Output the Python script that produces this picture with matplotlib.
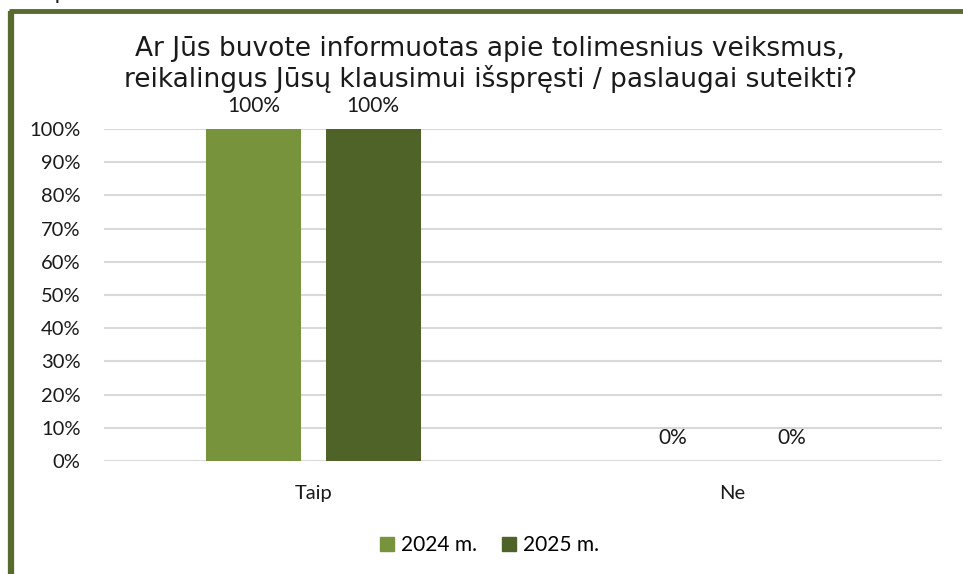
#!/usr/bin/env python3
"""Bar chart: was the respondent informed about further steps (2024 vs 2025)."""

import matplotlib

matplotlib.use("Agg")
import matplotlib.pyplot as plt
import numpy as np
from matplotlib.lines import Line2D
from matplotlib.patches import Rectangle

CATEGORIES = ["Taip", "Ne"]
SERIES = ["2024 m.", "2025 m."]
VALUES_2024 = [1.00, 0.00]
VALUES_2025 = [1.00, 0.00]
COLORS = ["#77933c", "#4f6228"]
TITLE = ("Ar Jūs buvote informuotas apie tolimesnius veiksmus,\n"
         "reikalingus Jūsų klausimui išspręsti / paslaugai suteikti?")

BORDER = "#586b2e"
GRID = "#d9d9d9"
TEXT = "#1a1a1a"
BAR_W = 0.227
OFFSET = 0.1426

plt.rcParams["font.family"] = ["Lato", "DejaVu Sans"]

fig = plt.figure(figsize=(9.63, 5.74), dpi=100)
ax = fig.add_axes([0.108, 0.1969, 0.870, 0.5784])

x = np.arange(len(CATEGORIES))
for vals, off, color, name in zip([VALUES_2024, VALUES_2025], [-OFFSET, OFFSET], COLORS, SERIES):
    bars = ax.bar(x + off, vals, width=BAR_W, color=color, label=name, zorder=3)
    for rect, v in zip(bars, vals):
        ax.annotate(f"{v:.0%}", (rect.get_x() + rect.get_width() / 2, v),
                    xytext=(0, 9), textcoords="offset points",
                    ha="center", va="bottom", fontsize=15, color=TEXT)

ax.set_xlim(-0.5, 1.5)
ax.set_ylim(0, 1.0)
ax.set_yticks(np.arange(0, 1.01, 0.1))
ax.set_yticklabels([f"{int(round(t * 100))}%" for t in np.arange(0, 1.01, 0.1)])
ax.set_xticks(x)
ax.set_xticklabels(CATEGORIES)
ax.tick_params(axis="both", length=0, labelsize=14.5, colors=TEXT)
ax.tick_params(axis="x", pad=17)
ax.tick_params(axis="y", pad=17)
ax.yaxis.grid(True, color=GRID, linewidth=1.5, zorder=0)
ax.set_axisbelow(True)
for sp in ax.spines.values():
    sp.set_visible(False)

fig.text(0.509, 0.888, TITLE, ha="center", va="center", fontsize=19,
         family=["DejaVu Sans"], color=TEXT, linespacing=1.12)

handles = [Rectangle((0, 0), 1, 1, color=c) for c in COLORS]
fig.legend(handles, SERIES, loc="center", bbox_to_anchor=(0.508, 0.05), ncol=2,
           frameon=False, fontsize=15, handlelength=0.7, handleheight=0.7,
           handletextpad=0.3, columnspacing=1.2)

# frame of the figure box: left and top edges only
fig.add_artist(Line2D([0.0114, 0.0114], [0, 0.981], color=BORDER, linewidth=4.5,
                      transform=fig.transFigure, solid_capstyle="butt"))
fig.add_artist(Line2D([0.0091, 1.0], [0.9808, 0.9808], color=BORDER, linewidth=3.5,
                      transform=fig.transFigure, solid_capstyle="butt"))
fig.text(0.02, 1.012, "18 pav.", ha="left", va="center", fontsize=16, color=TEXT,
         family=["DejaVu Sans"])

fig.savefig("out.png", dpi=100)
plt.close(fig)
